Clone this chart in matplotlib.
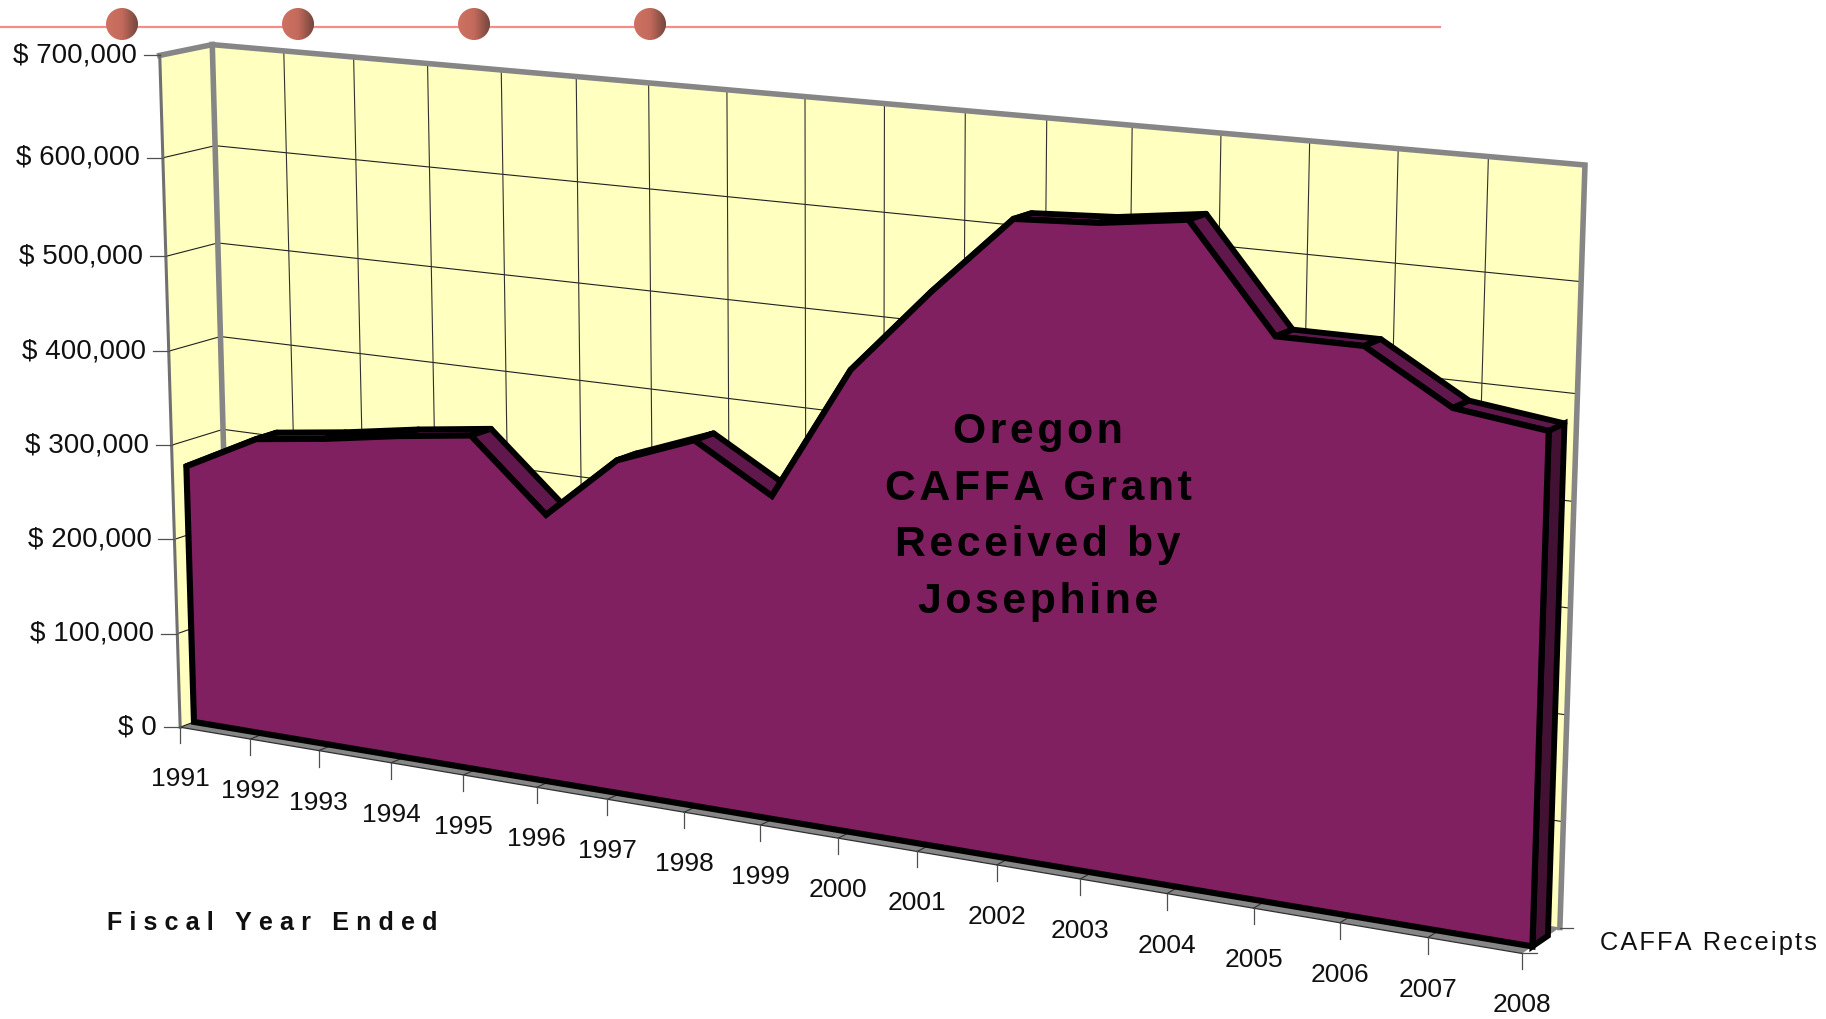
import numpy as np
import matplotlib
matplotlib.use('Agg')
import matplotlib.pyplot as plt
from matplotlib.colors import LinearSegmentedColormap
from matplotlib.patches import Circle, Polygon

plt.rcParams['font.family'] = ['Liberation Sans', 'DejaVu Sans']

years = [1991, 1992, 1993, 1994, 1995, 1996, 1997, 1998, 1999,
         2000, 2001, 2002, 2003, 2004, 2005, 2006, 2007, 2008]
receipts = [273000, 312000, 322000, 335000, 345500, 274000, 339500, 370000, 324000,
            459000, 543000, 618000, 622000, 632500, 536000, 536000, 489000, 478000]
value_ticks = [0, 100000, 200000, 300000, 400000, 500000, 600000, 700000]
value_labels = ['$ 0', '$ 100,000', '$ 200,000', '$ 300,000',
                '$ 400,000', '$ 500,000', '$ 600,000', '$ 700,000']
# the printed axes are not quite even, these are where the ticks really sit
tick_rows = [0, 1.0, 2.0, 2.99, 3.97, 4.95, 5.96, 7]
tick_cols = [0, 1.02, 2.0, 3.02, 4.02, 5.02, 5.97, 6.98, 7.97,
             8.96, 9.95, 10.93, 11.94, 12.97, 13.98, 14.97, 15.96, 17]

# the 3d box: (year index, dollars, depth) -> pixel, fitted on its visible corners
n = len(years) - 1
vmax = value_ticks[-1]
box = [(0, 0, 0), (0, vmax, 0), (0, vmax, 1), (0, 0, 1), (n, vmax, 1), (n, 0, 1), (n, 0, 0)]
pix = [(180, 728), (160, 55), (212, 45), (231, 707), (1585, 165), (1560, 928), (1522, 953)]

rows = []
for (a, b, c), (px, py) in zip(box, pix):
    w = [a / n, b / vmax, c, 1]
    rows.append(w + [0, 0, 0, 0] + [-px * q for q in w])
    rows.append([0, 0, 0, 0] + w + [-py * q for q in w])
P = np.linalg.svd(np.array(rows, dtype=float))[2][-1].reshape(3, 4)


def proj(i, val, depth):
    i, val, depth = np.broadcast_arrays(i, val, depth)
    c = np.interp(i, np.arange(n + 1), tick_cols) / n
    r = np.interp(val, value_ticks, tick_rows) / tick_rows[-1]
    q = P @ np.vstack([c, r, depth, np.ones(i.shape)])
    return np.column_stack([q[0] / q[2], q[1] / q[2]])


def track(s, gap='\u200a'):
    return gap.join(s)


fig = plt.figure(figsize=(18.26, 10.19), dpi=100)
ax = fig.add_axes([0, 0, 1, 1])
ax.axis('off')

idx = np.arange(len(years))
GREY = '#868686'
YELLOW = '#FFFFC0'
PURPLE = '#802060'
SIDE = '#60184C'
END = '#431133'

# decoration strip at the top
ax.plot([0, 1440], [26.5, 26.5], color='#F98A8A', lw=1.6, zorder=1)
dot_cmap = LinearSegmentedColormap.from_list('dot', ['#CE7262', '#C46A5C', '#74463E'])
for cx in [122, 298, 474, 650]:
    im = ax.imshow(np.linspace(0, 1, 64).reshape(1, -1), cmap=dot_cmap, aspect='auto',
                   extent=[cx - 16, cx + 16, 40, 8], zorder=2)
    im.set_clip_path(Circle((cx, 24), 16, transform=ax.transData))

# walls and floor
ax.add_patch(Polygon(proj([0, 0, n, n], [0, vmax, vmax, 0], 1), fc=YELLOW, ec='none', zorder=3))
ax.add_patch(Polygon(proj(0, [0, vmax, vmax, 0], [0, 0, 1, 1]), fc=YELLOW, ec='none', zorder=3))
ax.add_patch(Polygon(proj([0, n, n, 0], 0, [0, 0, 1, 1]), fc=GREY, ec='none', zorder=3))

# gridlines
for v in value_ticks[1:-1]:
    ax.plot(*proj([0, n], v, 1).T, color='#202020', lw=0.8, zorder=4)
for v in value_ticks:
    ax.plot(*proj(0, v, [0, 1]).T, color='#202020', lw=0.8, zorder=4)
for i in idx[1:-1]:
    ax.plot(*proj(i, [0, vmax], 1).T, color='#303030', lw=0.8, zorder=4)
    ax.plot(*proj(i, 0, [0, 0.35]).T, color='#303030', lw=0.8, zorder=4)

# wall edges
ax.plot(*proj([0, 0, n, n], [0, vmax, vmax, 0], 1).T, color=GREY, lw=4,
        solid_joinstyle='miter', zorder=5)
ax.plot(*proj(0, vmax, [0, 1]).T, color=GREY, lw=4, zorder=5)
ax.plot(*proj(0, [0, vmax], 0).T, color='#707070', lw=2.2, zorder=5)
ax.plot(*proj([0, n], 0, 0).T, color='#303030', lw=0.9, zorder=5)

# area body: sloped sides first, front face over them
d_front, d_back = 0.27, 0.68
for i in idx[:-1]:
    xs = [i, i + 1, i + 1, i]
    vs = [receipts[i], receipts[i + 1], receipts[i + 1], receipts[i]]
    ax.add_patch(Polygon(proj(xs, vs, [d_front, d_front, d_back, d_back]), fc=SIDE, ec='k',
                         lw=4.2, joinstyle='round', zorder=6))
ax.add_patch(Polygon(proj(n, [0, receipts[-1], receipts[-1], 0], [d_front, d_front, d_back, d_back]),
                     fc=END, ec='k', lw=4.2, joinstyle='miter', zorder=6))
front = np.vstack([proj(idx, receipts, d_front), proj([n, 0], 0, d_front)])
ax.add_patch(Polygon(front, fc=PURPLE, ec='k', lw=4.4, joinstyle='miter', zorder=7))

# ticks and labels
for v, lab in zip(value_ticks, value_labels):
    x, y = proj(0, v, 0)[0]
    ax.plot([x - 16, x], [y, y], color='#505050', lw=0.9, zorder=5)
    ax.text(x - 23, y, lab, ha='right', va='center', fontsize=20, color='#101010', zorder=8)
for i, yr in zip(idx, years):
    x, y = proj(i, 0, 0)[0]
    ax.plot([x, x], [y, y + 16], color='#505050', lw=0.9, zorder=5)
    ax.text(x, y + 52, str(yr), ha='center', va='center', fontsize=19, color='#101010', zorder=8)

x, y = proj(n, 0, 0)[0]
ax.plot([x, x + 15], [y, y], color='#505050', lw=0.9, zorder=5)
x, y = proj(n, 0, 1)[0]
ax.plot([x, x + 13], [y, y], color='#505050', lw=0.9, zorder=5)

ax.text(1600, 943, track('CAFFA Receipts'), ha='left', va='center', fontsize=18.3, color='#101010')
ax.text(107, 923, track('Fiscal Year Ended', '\u2009\u200a'), ha='left', va='center', fontsize=18.1,
        fontweight='bold', color='#101010')
ax.text(1038, 517, '\n'.join(track(s) for s in ['Oregon', 'CAFFA Grant', 'Received by', 'Josephine']),
        ha='center', va='center', multialignment='center', fontsize=30.8, fontweight='bold',
        linespacing=1.54, color='k', zorder=9)

ax.set_xlim(0, 1826)
ax.set_ylim(1019, 0)
fig.savefig('out.png', dpi=100)
